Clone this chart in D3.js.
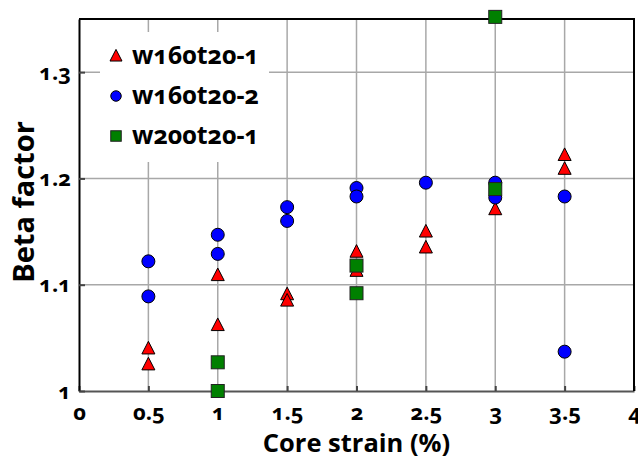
<!DOCTYPE html>
<html>
<head>
<meta charset="utf-8">
<script src="https://cdn.jsdelivr.net/npm/d3@7"></script>
<style>
	body { margin: 0; background: #fff; }
	svg, svg text { font-family: "Open Sans", "Noto Sans", sans-serif; font-weight: bold; font-variant-numeric: oldstyle-nums; }
</style>
</head>
<body>
<svg id="chart"></svg>
<script>
const width = 638;
const height = 461;
const margin = { top: 19, right: 4, bottom: 70, left: 79 };

// data
const seriesNames = ['w160t20-1', 'w160t20-2', 'w200t20-1'];
const triX = [0.5, 0.5, 1, 1, 1.5, 1.5, 2, 2, 2.5, 2.5, 3, 3.5, 3.5];
const triY = [1.040, 1.025, 1.109, 1.062, 1.091, 1.085, 1.131, 1.113, 1.150, 1.135, 1.171, 1.222, 1.209];
const circX = [0.5, 0.5, 1, 1, 1.5, 1.5, 2, 2, 2.5, 3, 3, 3.5, 3.5];
const circY = [1.122, 1.089, 1.147, 1.129, 1.173, 1.160, 1.191, 1.183, 1.196, 1.196, 1.182, 1.183, 1.037];
const sqX = [1, 1, 2, 2, 3, 3];
const sqY = [1.027, 1.000, 1.118, 1.092, 1.190, 1.352];
const xTicks = [0, 0.5, 1, 1.5, 2, 2.5, 3, 3.5, 4];
const yTicks = [1, 1.1, 1.2, 1.3];

const svg = d3.select('#chart')
	.attr('width', width)
	.attr('height', height);

const x = d3.scaleLinear().domain([0, 4]).range([margin.left, width - margin.right]);
const y = d3.scaleLinear().domain([1, 1.35]).range([height - margin.bottom, margin.top]);

const gridColor = '#a8a8a8';

// grid
svg.append('g')
	.selectAll('line')
	.data(xTicks.slice(1, -1))
	.join('line')
	.attr('x1', d => x(d)).attr('x2', d => x(d))
	.attr('y1', y(1)).attr('y2', y(1.35))
	.attr('stroke', gridColor)
	.attr('stroke-width', 1.5);
svg.append('g')
	.selectAll('line')
	.data(yTicks.slice(1))
	.join('line')
	.attr('x1', x(0)).attr('x2', x(4))
	.attr('y1', d => y(d)).attr('y2', d => y(d))
	.attr('stroke', gridColor)
	.attr('stroke-width', 1.5);

// axes
const xAxis = svg.append('g')
	.attr('transform', `translate(0,${y(1)})`)
	.call(d3.axisBottom(x).tickValues(xTicks).tickFormat(d3.format('')).tickSizeInner(-5).tickSizeOuter(0).tickPadding(13));
xAxis.attr('font-family', null);
xAxis.select('.domain').attr('stroke', '#555').attr('stroke-width', 2);
xAxis.selectAll('.tick line').attr('stroke', '#444').attr('stroke-width', 2);
xAxis.selectAll('text').attr('font-size', 22).attr('fill', '#000');

const yAxis = svg.append('g')
	.attr('transform', `translate(${x(0)},0)`)
	.call(d3.axisLeft(y).tickValues(yTicks).tickFormat(d3.format('')).tickSizeInner(-6).tickSizeOuter(0).tickPadding(8));
yAxis.attr('font-family', null);
yAxis.select('.domain').attr('stroke', '#000').attr('stroke-width', 2);
yAxis.selectAll('.tick line').attr('stroke', '#444').attr('stroke-width', 2);
yAxis.selectAll('text').attr('font-size', 22).attr('fill', '#000');

// top & right frame
svg.append('path')
	.attr('d', `M${x(0)},${y(1.35)}H${x(4)}V${y(1)}`)
	.attr('fill', 'none')
	.attr('stroke', '#000')
	.attr('stroke-width', 2);

// axis titles
svg.append('text')
	.attr('x', x(2))
	.attr('y', 452)
	.attr('text-anchor', 'middle')
	.attr('font-size', 25.5)
	.text('Core strain (%)');
svg.append('text')
	.attr('transform', `translate(34,202) rotate(-90)`)
	.attr('text-anchor', 'middle')
	.attr('font-size', 29)
	.text('Beta factor');

// legend
const legend = svg.append('g');
legend.append('rect')
	.attr('x', 100).attr('y', 32)
	.attr('width', 169).attr('height', 130)
	.attr('fill', '#fff');

const markers = [
	{ name: seriesNames[0], xs: triX, ys: triY, fill: '#ff0000', shape: 'tri' },
	{ name: seriesNames[1], xs: circX, ys: circY, fill: '#0000ff', shape: 'circ' },
	{ name: seriesNames[2], xs: sqX, ys: sqY, fill: '#008000', shape: 'sq' }
];

function drawMarker(g, shape, fill, cx, cy, s) {
	if (shape === 'tri') {
		g.append('path')
			.attr('d', `M${cx},${cy - s * 0.55}L${cx + s / 2},${cy + s * 0.42}L${cx - s / 2},${cy + s * 0.42}Z`)
			.attr('fill', fill).attr('stroke', '#000').attr('stroke-width', 1);
	} else if (shape === 'circ') {
		g.append('circle')
			.attr('cx', cx).attr('cy', cy).attr('r', s / 2)
			.attr('fill', fill).attr('stroke', '#000').attr('stroke-width', 1);
	} else {
		g.append('rect')
			.attr('x', cx - s / 2).attr('y', cy - s / 2)
			.attr('width', s).attr('height', s)
			.attr('fill', fill).attr('stroke', '#222').attr('stroke-width', 1);
	}
}

markers.forEach((m, i) => {
	let ly = 56 + i * 40;
	drawMarker(legend, m.shape, m.fill, 116, ly, m.shape === 'tri' ? 12 : 10.5);
	legend.append('text')
		.attr('x', 132)
		.attr('y', ly + 8)
		.attr('font-size', 25)
		.text(m.name);
});

// points
const pts = svg.append('g');
markers.forEach(m => {
	m.xs.forEach((v, i) => {
		drawMarker(pts, m.shape, m.fill, x(v), y(m.ys[i]), 13);
	});
});
</script>
</body>
</html>
